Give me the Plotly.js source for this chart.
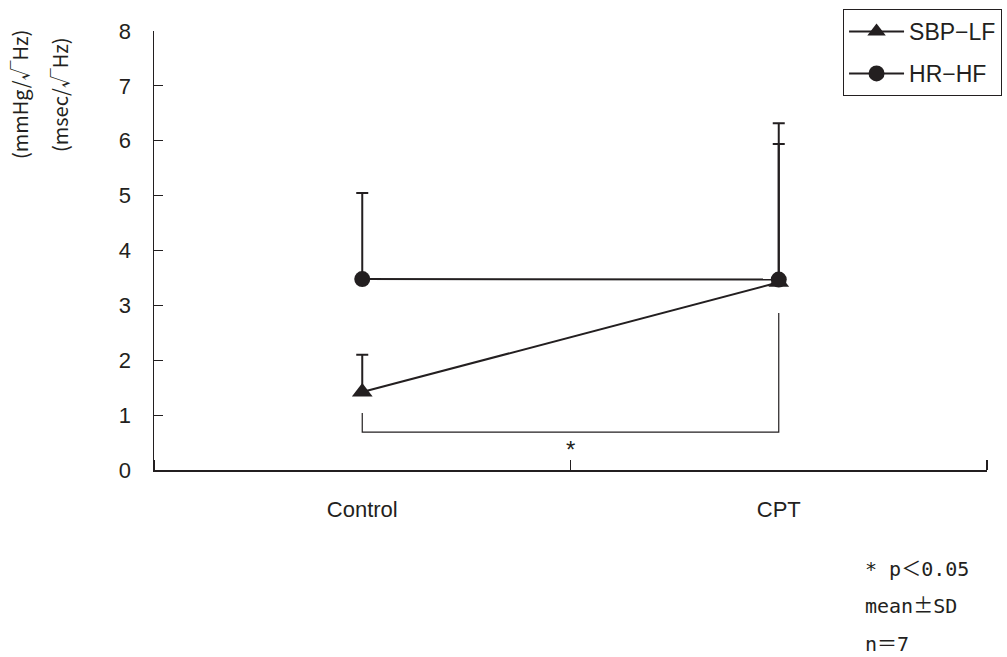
<!DOCTYPE html>
<html>
<head>
<meta charset="utf-8">
<script src="https://cdn.plot.ly/plotly-3.0.1.min.js"></script>
<style>
  html, body { margin: 0; padding: 0; background: #fff; }
  #chart { width: 1007px; height: 657px; }
</style>
</head>
<body>
<div id="chart"></div>
<script>
// Conditions on the x axis
const categories = ['Control', 'CPT'];

// Systolic blood pressure, low-frequency power (mmHg/√Hz)
const sbpLfMean = [1.42, 3.42];
const sbpLfSD   = [0.68, 2.52];

// Heart rate, high-frequency power (msec/√Hz)
const hrHfMean = [3.48, 3.47];
const hrHfSD   = [1.57, 2.85];

const ink = '#231f20';
const xIdx = categories.map((_, i) => i);

const traces = [
  {
    name: 'SBP−LF', legendgroup: 'sbp',
    x: xIdx, y: sbpLfMean,
    type: 'scatter', mode: 'lines+markers',
    line: { color: ink, width: 2 },
    marker: { symbol: 'triangle-up', size: 18, color: ink },
    error_y: { type: 'data', array: sbpLfSD, arrayminus: sbpLfMean.map(() => 0),
               symmetric: false, color: ink, thickness: 2, width: 6 }
  },
  {
    name: 'HR−HF', legendgroup: 'hr',
    x: xIdx, y: hrHfMean,
    type: 'scatter', mode: 'lines+markers',
    line: { color: ink, width: 2 },
    marker: { symbol: 'circle', size: 16, color: ink },
    error_y: { type: 'data', array: hrHfSD, arrayminus: hrHfMean.map(() => 0),
               symmetric: false, color: ink, thickness: 2, width: 6 }
  }
];

const sansFont = { family: 'Liberation Sans, Arial, sans-serif', size: 22, color: ink };
const unitFont = { family: 'Noto Sans CJK JP, sans-serif', size: 20, color: ink };
const noteFont = { family: 'DejaVu Sans Mono, Noto Sans CJK JP, monospace', size: 20, color: ink };
const wide = s => '<span style="font-family:Noto Sans CJK JP">' + s + '</span>';

const layout = {
  width: 1007, height: 657,
  margin: { l: 154, r: 20, t: 31, b: 187, autoexpand: false },
  paper_bgcolor: '#fff', plot_bgcolor: '#fff',
  font: sansFont,
  showlegend: true,
  legend: {
    x: 0.8272, y: 1.050, xanchor: 'left', yanchor: 'top',
    bordercolor: ink, borderwidth: 1, bgcolor: '#fff',
    traceorder: 'grouped', tracegroupgap: 9, itemwidth: 55,
    font: { family: 'Liberation Sans, Arial, sans-serif', size: 23, color: ink }
  },
  xaxis: {
    range: [-0.5, 1.5], showgrid: false, zeroline: false,
    showline: true, linecolor: ink, linewidth: 1.5,
    tickvals: xIdx, ticktext: categories, ticks: '',
    ticklabelstandoff: 19,
    minor: { tickvals: [-0.5, 0.5, 1.5], ticks: 'inside', ticklen: 10,
             tickcolor: ink, tickwidth: 1.5, showgrid: false },
    tickfont: sansFont, fixedrange: true
  },
  yaxis: {
    range: [0, 8], showgrid: false, zeroline: false,
    showline: true, linecolor: ink, linewidth: 1.5,
    tickvals: [0, 1, 2, 3, 4, 5, 6, 7, 8],
    ticks: 'inside', ticklen: 9, tickcolor: ink, tickwidth: 1,
    tickfont: sansFont, ticklabelstandoff: 17, fixedrange: true
  },
  shapes: [
    {
      type: 'path', xref: 'x', yref: 'y',
      path: 'M 0,1.04 L 0,0.69 L 1,0.69 L 1,2.86',
      line: { color: ink, width: 1.2 }
    }
  ],
  annotations: [
    { xref: 'x', yref: 'y', x: 0.5, y: 0.38, text: '*', showarrow: false,
      xanchor: 'center', yanchor: 'middle',
      font: { family: 'Liberation Sans, Arial, sans-serif', size: 24, color: ink } },
    { xref: 'paper', yref: 'paper', x: -0.1616, y: 0.855, text: '(mmHg/√Hz)',
      xanchor: 'center', yanchor: 'middle',
      textangle: -90, showarrow: false, font: unitFont },
    { xref: 'paper', yref: 'paper', x: -0.1136, y: 0.855, text: '(msec/√Hz)',
      xanchor: 'center', yanchor: 'middle',
      textangle: -90, showarrow: false, font: unitFont },
    { xref: 'paper', yref: 'paper', x: 0.8512, y: -0.2210, xanchor: 'left', yanchor: 'middle',
      text: '* p' + wide('＜') + '0.05', showarrow: false, font: noteFont },
    { xref: 'paper', yref: 'paper', x: 0.8512, y: -0.3075, xanchor: 'left', yanchor: 'middle',
      text: 'mean' + wide('±') + 'SD', showarrow: false, font: noteFont },
    { xref: 'paper', yref: 'paper', x: 0.8512, y: -0.3918, xanchor: 'left', yanchor: 'middle',
      text: 'n' + wide('＝') + '7', showarrow: false, font: noteFont }
  ]
};

Plotly.newPlot('chart', traces, layout, { staticPlot: true, displayModeBar: false });
</script>
</body>
</html>
